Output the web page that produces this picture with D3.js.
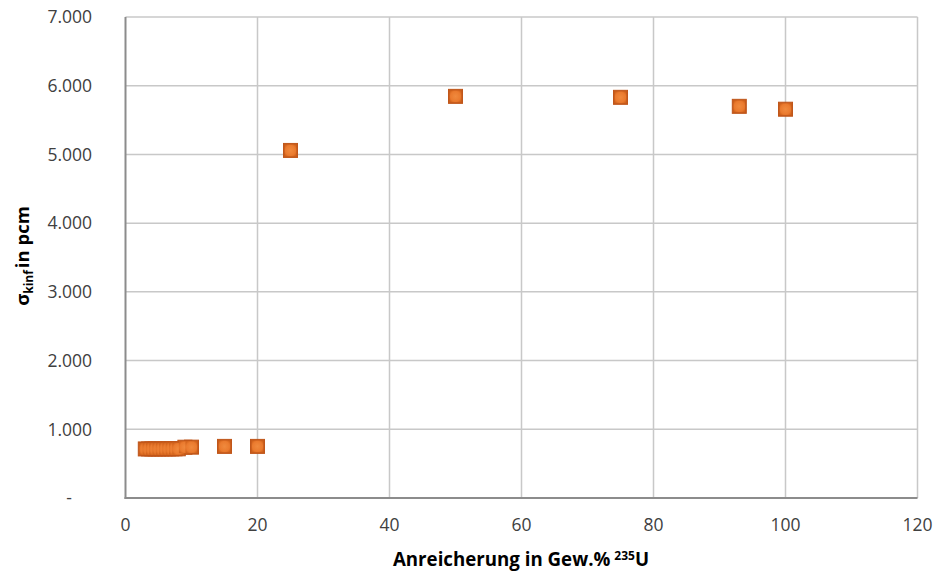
<!DOCTYPE html>
<html><head><meta charset="utf-8">
<script src="https://cdn.jsdelivr.net/npm/d3@7"></script>
<style>body{margin:0;background:#fff;} svg{display:block;}</style>
</head><body><svg id="c" width="942" height="574"></svg>
<script>
const enrichment = [3, 3.5, 4, 4.5, 5, 5.5, 6, 6.5, 7, 7.5, 8, 9, 10, 15, 20, 25, 50, 75, 93, 100];
const sigmaKinf = [714, 714, 714, 714, 714, 714, 715, 715, 715, 716, 716, 739, 740, 751, 751, 5058, 5845, 5831, 5700, 5658];
const xTicks = [0, 20, 40, 60, 80, 100, 120];
const yTicks = [0, 1000, 2000, 3000, 4000, 5000, 6000, 7000];

const svg = d3.select("#c");
const m = {l:125.5, r:917.5, t:17, b:498};
const x = d3.scaleLinear().domain([0,120]).range([m.l, m.r]);
const y = d3.scaleLinear().domain([0,7000]).range([m.b, m.t]);
const font = "'Open Sans', sans-serif";

const defs = svg.append("defs");
const g = defs.append("radialGradient").attr("id","mg").attr("cx","50%").attr("cy","50%").attr("r","60%");
g.append("stop").attr("offset","0%").attr("stop-color","#f08a3e");
g.append("stop").attr("offset","70%").attr("stop-color","#ea7a2e");
g.append("stop").attr("offset","100%").attr("stop-color","#d2631c");

// grid
svg.append("g").selectAll("line").data(xTicks.slice(1)).join("line")
  .attr("x1",d=>x(d)).attr("x2",d=>x(d)).attr("y1",m.t).attr("y2",m.b)
  .attr("stroke","#c8c8c8").attr("stroke-width",1.5);
svg.append("g").selectAll("line").data(yTicks.slice(1)).join("line")
  .attr("x1",m.l).attr("x2",m.r).attr("y1",d=>y(d)).attr("y2",d=>y(d))
  .attr("stroke","#c8c8c8").attr("stroke-width",1.5);

// axes
svg.append("line").attr("x1",m.l).attr("x2",m.l).attr("y1",m.t).attr("y2",m.b+1).attr("stroke","#8c8c8c").attr("stroke-width",2);
svg.append("line").attr("x1",m.l-1).attr("x2",m.r).attr("y1",m.b).attr("y2",m.b).attr("stroke","#8c8c8c").attr("stroke-width",2);

const fmt = d => d === 0 ? "-" : d3.format(",")(d).replace(/,/g, ".");
svg.append("g").selectAll("text").data(yTicks).join("text")
  .attr("x", d => d===0 ? 72 : 92).attr("y", d => y(d)).attr("dy","0.36em")
  .attr("text-anchor","end").attr("font-family",font).attr("font-size",17.5).attr("fill","#404040")
  .text(fmt);
svg.append("g").selectAll("text").data(xTicks).join("text")
  .attr("x", d => x(d)).attr("y", 531)
  .attr("text-anchor","middle").attr("font-family",font).attr("font-size",17.5).attr("fill","#404040")
  .text(d=>d);

// titles
const xt = svg.append("text").attr("x",521).attr("y",566).attr("text-anchor","middle")
  .attr("font-family",font).attr("font-weight","bold").attr("font-size",18.7).attr("fill","#000");
xt.append("tspan").text("Anreicherung in Gew.%");
xt.append("tspan").attr("dx",4).attr("dy",-6).attr("font-size",12).text("235");
xt.append("tspan").attr("dy",6).text("U");

const yt = svg.append("text").attr("transform","translate(29,256) rotate(-90)").attr("text-anchor","middle")
  .attr("font-family",font).attr("font-weight","bold").attr("font-size",18.5).attr("fill","#000");
yt.append("tspan").text("σ");
yt.append("tspan").attr("dy",4).attr("font-size",12).text("kinf");
yt.append("tspan").attr("dy",-4).attr("dx",2).text("in pcm");

// markers: outline layer then fill layer so overlapping markers merge
const s = 14;
const pts = enrichment.map((e,i)=>({e, v:sigmaKinf[i]}));
svg.append("g").selectAll("rect").data(pts).join("rect")
  .attr("x", d => x(d.e) - s/2).attr("y", d => y(d.v) - s/2)
  .attr("width", s).attr("height", s)
  .attr("fill","#c0561a").attr("stroke","#c0561a").attr("stroke-width",1);
svg.append("g").selectAll("rect").data(pts).join("rect")
  .attr("x", d => x(d.e) - s/2 + 1).attr("y", d => y(d.v) - s/2 + 1)
  .attr("width", s-2).attr("height", s-2)
  .attr("fill","url(#mg)");
</script></body></html>
